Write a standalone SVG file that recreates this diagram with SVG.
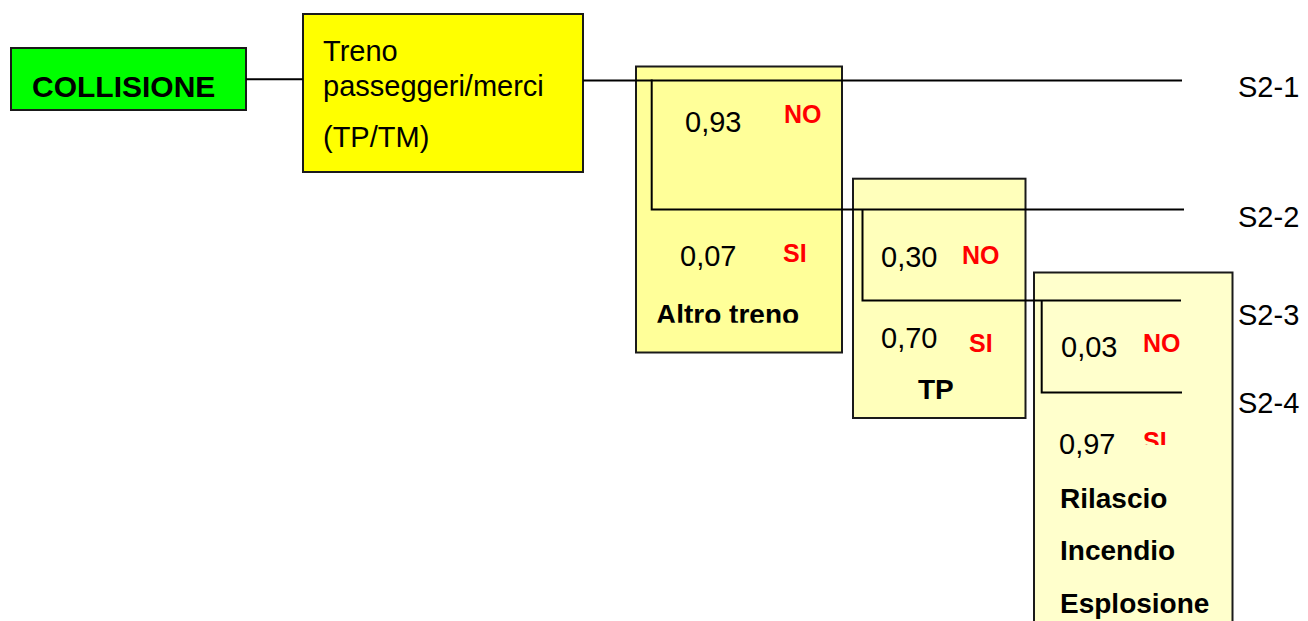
<svg xmlns="http://www.w3.org/2000/svg" width="1308" height="621" viewBox="0 0 1308 621">
<style>
.box{stroke:#1a1a1a;stroke-width:2}
.t{font-family:"Liberation Sans",Arial,sans-serif;font-size:29px;fill:#000}
.b{font-family:"Liberation Sans",Arial,sans-serif;font-size:28px;font-weight:bold;fill:#000}
.r{font-family:"Liberation Sans",Arial,sans-serif;font-size:25px;font-weight:bold;fill:#ff0000}
.ln{fill:none;stroke:#000;stroke-width:2}
</style>
<defs>
<clipPath id="clipAltro"><rect x="600" y="280" width="300" height="42.8"/></clipPath>
<clipPath id="clipSi"><rect x="1100" y="420" width="100" height="25"/></clipPath>
</defs>
<rect width="1308" height="621" fill="#fff"/>
<g id="collisione">
<rect class="box" x="11" y="48" width="235" height="62" fill="#00ff00"/>
<text class="b" x="32" y="97" style="font-size:30px">COLLISIONE</text>
</g>
<g id="treno">
<rect class="box" x="303" y="14" width="280" height="158" fill="#ffff00"/>
<text class="t" x="323" y="61">Treno</text>
<text class="t" x="323" y="96">passeggeri/merci</text>
<text class="t" x="323" y="146.5">(TP/TM)</text>
</g>
<g id="altro-treno">
<rect class="box" x="636" y="66.5" width="206" height="286" fill="#ffff99"/>
<text class="t" x="685" y="131.5">0,93</text>
<text class="r" x="784" y="122.5">NO</text>
<text class="t" x="680" y="265.5">0,07</text>
<text class="r" x="783" y="262.3">SI</text>
<text class="b" x="656" y="324" clip-path="url(#clipAltro)">Altro treno</text>
</g>
<g id="tp">
<rect class="box" x="853" y="178.7" width="172.5" height="239.3" fill="#ffffbb"/>
<text class="t" x="881" y="266.5">0,30</text>
<text class="r" x="962" y="264.3">NO</text>
<text class="t" x="881" y="348.3">0,70</text>
<text class="r" x="969" y="351.7">SI</text>
<text class="b" x="918" y="399.3">TP</text>
</g>
<g id="rilascio">
<rect class="box" x="1034" y="272.5" width="198.5" height="360" fill="#ffffcc"/>
<text class="t" x="1061" y="356.7">0,03</text>
<text class="r" x="1143" y="352.3">NO</text>
<text class="t" x="1059" y="454.3">0,97</text>
<text class="r" x="1143" y="449.6" clip-path="url(#clipSi)">SI</text>
<text class="b" x="1060" y="508.3">Rilascio</text>
<text class="b" x="1060" y="560">Incendio</text>
<text class="b" x="1060" y="612.7">Esplosione</text>
</g>
<g id="connectors">
<line class="ln" x1="246" y1="79.3" x2="303" y2="79.3"/>
<line class="ln" x1="583" y1="80.5" x2="1182" y2="80.5"/>
<polyline class="ln" points="651.7,79.5 651.7,209.5 1184,209.5"/>
<polyline class="ln" points="862.5,209 862.5,300.5 1181,300.5"/>
<polyline class="ln" points="1041.7,300.5 1041.7,392.5 1182,392.5"/>
</g>
<g id="labels">
<text class="t" x="1238" y="97">S2-1</text>
<text class="t" x="1238" y="227">S2-2</text>
<text class="t" x="1238" y="325">S2-3</text>
<text class="t" x="1238" y="413.3">S2-4</text>
</g>
</svg>
